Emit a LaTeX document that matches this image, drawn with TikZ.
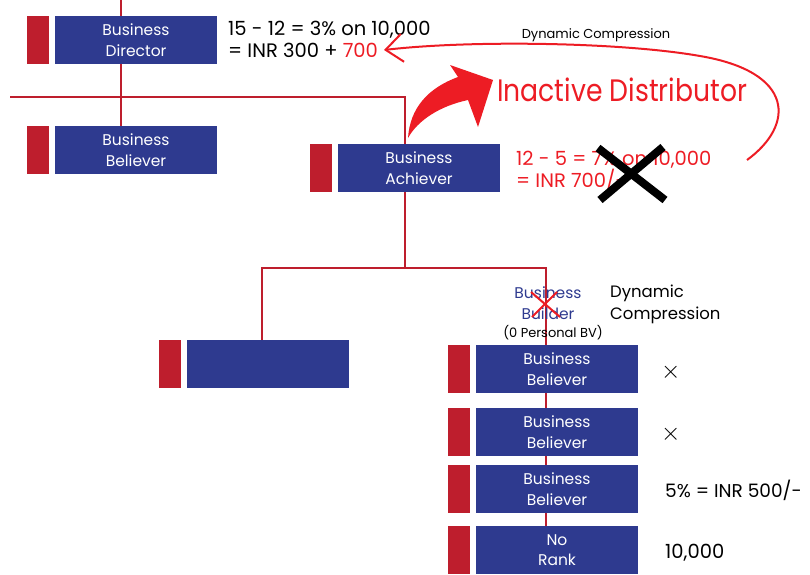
\documentclass[tikz,border=0pt]{standalone}
\usepackage{fontspec}
\setmainfont{Poppins}
\newfontfamily\headfont{Poppins}[FakeStretch=0.86]
\usepackage{tikz}
\usetikzlibrary{backgrounds}
\usetikzlibrary{positioning, calc, arrows.meta}

\definecolor{rankblue}{HTML}{2E3A8F}
\definecolor{rankred}{HTML}{BE1E2D}
\definecolor{markred}{HTML}{ED1C24}

\tikzset{
  rank/.style={fill=rankblue, text=white, minimum width=162pt, minimum height=48pt,
    inner sep=0pt, align=center, font=\fontsize{15.5}{20.5}\selectfont},
  bar/.style={fill=rankred, minimum width=22pt, minimum height=48pt, inner sep=0pt,
    left=6pt of #1},
  link/.style={draw=rankred, line width=2pt},
  note/.style={anchor=west, align=left, inner sep=0pt, font=\fontsize{19.5}{22}\selectfont},
}

\begin{document}
\begin{tikzpicture}[x=1pt, y=-1pt]

      \useasboundingbox (0,0) rectangle (810,574);

      % RANKS

      \node[rank] (dir) at (136,40) {Business\\Director};
      \node[bar=dir] (dirBar) {};
      \node[rank] (bel) at (136,150) {Business\\Believer};
      \node[bar=bel] (belBar) {};
      \node[rank] (ach) at (419,168) {Business\\Achiever};
      \node[bar=ach] (achBar) {};
      \node[rank] (blank) at (268,364) {};
      \node[bar=blank] (blankBar) {};

      \node[rank] (belA) at (557,369) {Business\\Believer};
      \node[bar=belA] (belABar) {};
      \node[rank] (belB) at (557,432) {Business\\Believer};
      \node[bar=belB] (belBBar) {};
      \node[rank] (belC) at (557,489) {Business\\Believer};
      \node[bar=belC] (belCBar) {};
      \node[rank] (noRank) at (557,550) {No\\Rank};
      \node[bar=noRank] (noRankBar) {};

      % LABELS

      \node[note] (dirCalc) at (228,39) {15 - 12 = 3\% on 10,000\\= INR 300 + \textcolor{markred}{700}};
      \node[note, text=markred] (achCalc) at (516,171) {12 - 5 = 7\% on 10,000\\= INR 700/-};
      \node[text=markred, font=\headfont\fontsize{31}{31}\selectfont, inner sep=0pt] (inactive) at (622,90) {Inactive Distributor};
      \node[font=\fontsize{13}{13}\selectfont, inner sep=0pt] (dcTop) at (596,35) {Dynamic Compression};

      \node[text=rankblue, align=center, inner sep=0pt, font=\fontsize{15.5}{20.5}\selectfont] (builder) at (548,303) {Business\\Builder};
      \node[font=\fontsize{13}{13}\selectfont, inner sep=0pt] (bv) at (553,333) {(0 Personal BV)};
      \node[note, font=\fontsize{16.5}{22}\selectfont] (dcSide) at (610,304) {Dynamic\\Compression};

      \node[note, font=\fontsize{30}{30}\selectfont] (xA) at (661,372) {$\times$};
      \node[note, font=\fontsize{30}{30}\selectfont] (xB) at (661,434) {$\times$};
      \node[note, font=\fontsize{18.5}{22}\selectfont] (pay) at (665,490) {5\% = INR 500/-};
      \node[note] (bvAmt) at (665,553) {10,000};

      % LINKS

      \coordinate (top) at (121,0);
      \coordinate (left) at (10,97);
      \coordinate (fork) at (405,268);
      \coordinate (forkL) at (262,268);
      \coordinate (forkR) at (546,268);

      \begin{scope}[on background layer]
        \draw[link] (top) -- (top |- bel.north);
        \draw[link] (left) -| (fork |- ach.north);
        \draw[link] (fork |- ach.south) -- (fork);
        \draw[link] (forkL |- blank.north) -- (forkL) -- (forkR) -- (forkR |- noRank.north);
      \end{scope}

      % MARKS

      \draw[markred, line width=2pt] ($(builder)+(-17,-11)$) -- ($(builder)+(12,14)$);
      \draw[markred, line width=2pt] ($(builder)+(-16,14)$) -- ($(builder)+(9,-11)$);
      \draw[line width=8pt] (598,148) -- (665,200);
      \draw[line width=8pt] (600,200) -- (663,147);

      % ARROWS

      \coordinate (dcStart) at (747,160);
      \coordinate (dcEnd) at (384,50);
      \draw[markred, line width=2pt, -{Straight Barb[length=17pt, width=28pt]}]
        (dcStart) .. controls (795,125) and (795,72) .. (700,56)
                  .. controls (620,42) and (470,40) .. (dcEnd);

      \fill[markred] (408,138) .. controls (410,108) and (428,88) .. (458,77)
        -- (450,65) -- (493,80) -- (478,127) -- (468,100)
        .. controls (440,106) and (418,120) .. (408,138) -- cycle;

\end{tikzpicture}
\end{document}
